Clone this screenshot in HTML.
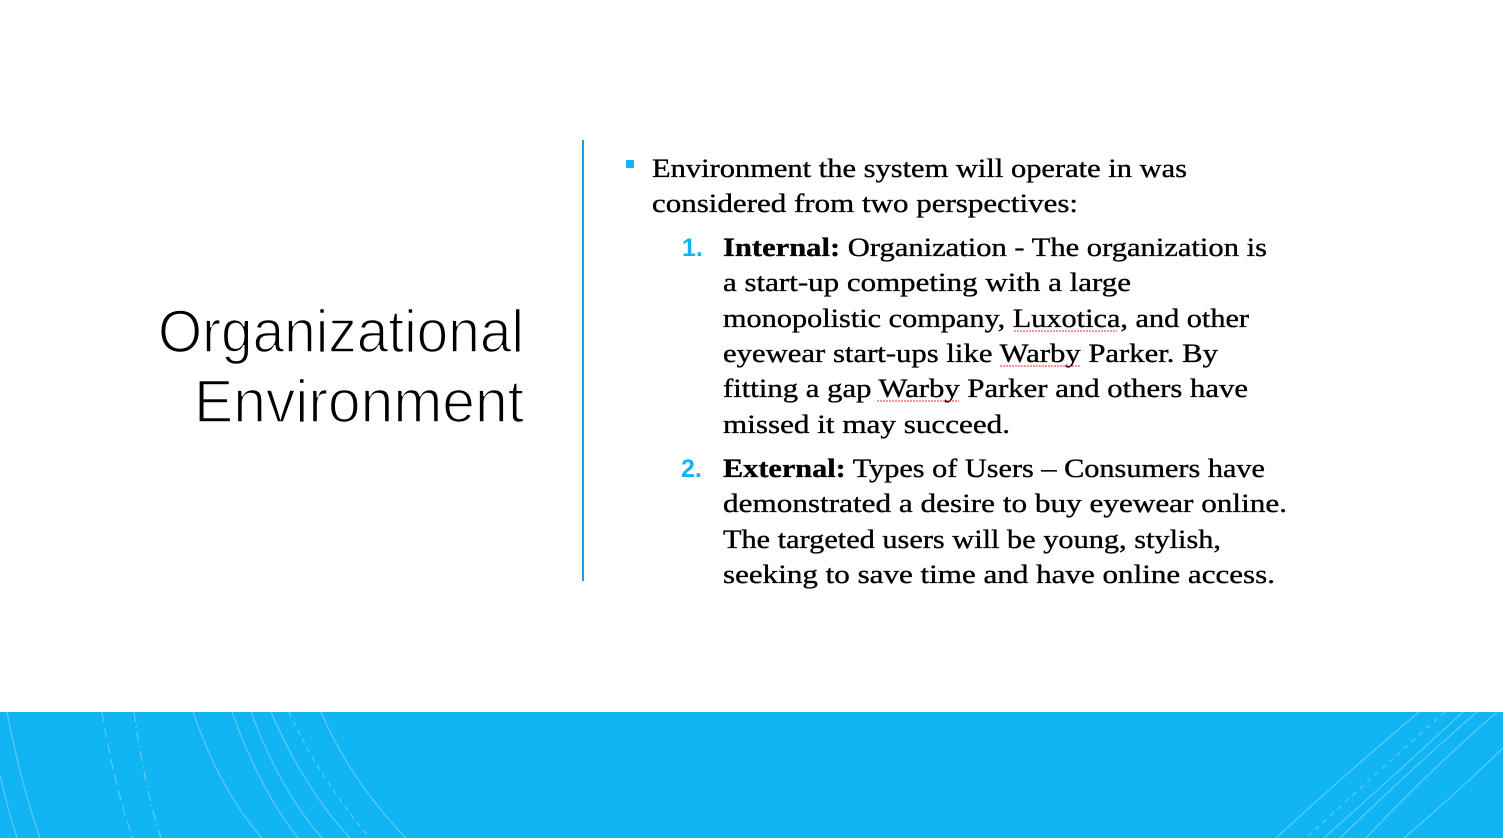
<!DOCTYPE html>
<html><head><meta charset="utf-8"><style>
html,body{margin:0;padding:0;background:#fff;}
svg{display:block;}
</style></head><body>
<svg width="1503" height="838" viewBox="0 0 1503 838" xmlns="http://www.w3.org/2000/svg">
<rect width="1503" height="838" fill="#fff"/>
<!-- title -->
<g font-family="'Liberation Sans', sans-serif" font-size="60" fill="#000" text-anchor="end" stroke="#fff" stroke-width="1.6">
<text x="524" y="352" textLength="366" lengthAdjust="spacingAndGlyphs">Organizational</text>
<text x="524" y="422" textLength="330" lengthAdjust="spacingAndGlyphs">Environment</text>
</g>
<!-- divider -->
<rect x="582" y="140" width="2" height="441" fill="#1f9fd8"/>
<!-- bullet -->
<rect x="626" y="160" width="8" height="8" fill="#12b5f3"/>
<g font-family="'Liberation Sans', sans-serif" font-size="25" font-weight="bold" fill="#12b5f3">
<text x="682" y="256">1.</text>
<text x="681" y="477">2.</text>
</g>
<g font-family="'Liberation Serif', serif" font-size="26" fill="#000" stroke="#000" stroke-width="0.35" style="white-space:pre">
<text x="652" y="177" textLength="535" lengthAdjust="spacingAndGlyphs">Environment the system will operate in was</text>
<text x="652" y="212" textLength="426" lengthAdjust="spacingAndGlyphs">considered from two perspectives:</text>
<text x="723" y="256" textLength="544" lengthAdjust="spacingAndGlyphs"><tspan font-weight="bold">Internal:</tspan> Organization -  The organization is</text>
<text x="723" y="291" textLength="408" lengthAdjust="spacingAndGlyphs">a start-up competing with a large</text>
<text x="723" y="327" textLength="526" lengthAdjust="spacingAndGlyphs">monopolistic company, Luxotica, and other</text>
<text x="723" y="362" textLength="495" lengthAdjust="spacingAndGlyphs">eyewear start-ups like Warby Parker.  By</text>
<text x="723" y="397" textLength="525" lengthAdjust="spacingAndGlyphs">fitting a gap Warby Parker and others have</text>
<text x="723" y="433" textLength="287" lengthAdjust="spacingAndGlyphs">missed it may succeed.</text>
<text x="723" y="477" textLength="542" lengthAdjust="spacingAndGlyphs"><tspan font-weight="bold">External:</tspan> Types of Users – Consumers have</text>
<text x="723" y="512" textLength="564" lengthAdjust="spacingAndGlyphs">demonstrated a desire to buy eyewear online.</text>
<text x="723" y="548" textLength="498" lengthAdjust="spacingAndGlyphs">The targeted users will be young, stylish,</text>
<text x="723" y="583" textLength="552" lengthAdjust="spacingAndGlyphs">seeking to save time and have online access.</text>
</g>
<!-- spell squiggles -->
<g stroke="#e03030" stroke-width="1" fill="none" stroke-dasharray="2 1">
<line x1="1014" y1="331" x2="1117" y2="331"/>
<line x1="1000" y1="366" x2="1081" y2="366"/>
<line x1="877" y1="401" x2="959" y2="401"/>
</g>
<!-- bottom band -->
<rect x="0" y="712" width="1503" height="126" fill="#12b5f3"/>
<g stroke="#7fd3f5" stroke-width="1" fill="none" opacity="0.8">
<path d="M7 712 Q20 780 40 838"/>
<path d="M0 775 Q8 810 17 838"/>
<path d="M102 712 Q115 790 133 838" stroke-dasharray="10 6"/>
<path d="M134 712 Q145 790 161 838" stroke-dasharray="10 4 2 4"/>
<path d="M193 712 Q220 790 262 838"/>
<path d="M232 712 Q260 790 298 838"/>
<path d="M251 712 Q280 790 322 838"/>
<path d="M271 712 Q305 790 350 838"/>
<path d="M289 712 Q320 780 370 838" stroke-dasharray="5 5"/>
<path d="M321 712 Q350 780 406 838"/>
<path d="M1419 712 Q1350 770 1276 838"/>
<path d="M1445 712 Q1380 770 1306 838" stroke-dasharray="5 5"/>
<path d="M1463 712 Q1400 770 1324 838"/>
<path d="M1477 712 Q1410 770 1340 838"/>
<path d="M1497 712 Q1430 770 1366 838"/>
<path d="M1503 748 Q1460 790 1404 838"/>
</g>
</svg>
</body></html>
